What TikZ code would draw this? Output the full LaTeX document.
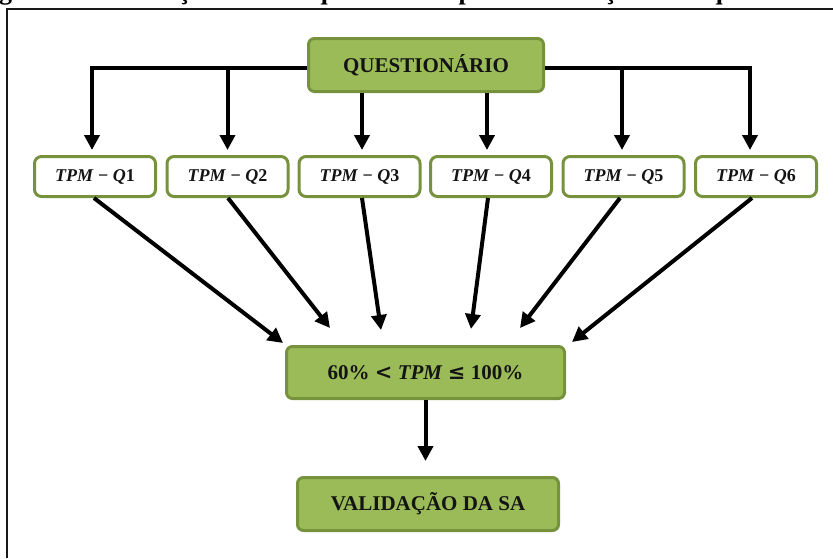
\documentclass[tikz,border=0pt]{standalone}
\usepackage[no-math]{fontspec}
\setmainfont{Liberation Serif}
\newfontfamily\relfont{DejaVu Serif}
\usetikzlibrary{arrows.meta}

\definecolor{olivefill}{HTML}{9BBB59}
\definecolor{olivedraw}{HTML}{76923C}
\definecolor{inktext}{HTML}{141414}

% bold italic variable names, as in the labels
\newcommand{\vname}[1]{\textbf{\textit{#1}}}

\tikzset{
  greenbox/.style={draw=olivedraw, fill=olivefill, line width=3pt,
    rounded corners=6pt, inner sep=0pt, text=inktext},
  qbox/.style={draw=olivedraw, fill=white, line width=3pt,
    rounded corners=7pt, inner sep=0pt, minimum width=121pt,
    minimum height=40pt, text=inktext,
    font=\bfseries\fontsize{18}{21}\selectfont},
  arr/.style={line width=4pt, draw=black,
    -{Triangle[length=15pt,width=15pt]}},
}

\begin{document}
\begin{tikzpicture}[x=1pt,y=-1pt]
\useasboundingbox (0,0) rectangle (833,558);

% caption line above the frame, cut off by the page edge
\begin{scope}
  \clip (0,0) rectangle (833,9);
  \node[anchor=base west, inner sep=0pt,
        font=\bfseries\fontsize{26}{30}\selectfont]
    at (-40,-0.5) {Diagrama da avaliação final do questionário para a validação da Sequência Didática};
\end{scope}

% frame
\draw[line width=2pt, black!90] (7,558) -- (7,9) -- (833,9);

% boxes
\node[greenbox, minimum width=235pt, minimum height=53pt,
      font=\bfseries\fontsize{21}{25}\selectfont] (top) at (426,65) {QUESTIONÁRIO};

\node[qbox] (q1) at (95,176.5)    {\vname{TPM} − \vname{Q}1};
\node[qbox] (q2) at (227.5,176.5) {\vname{TPM} − \vname{Q}2};
\node[qbox] (q3) at (359.5,176.5) {\vname{TPM} − \vname{Q}3};
\node[qbox] (q4) at (491,176.5)   {\vname{TPM} − \vname{Q}4};
\node[qbox] (q5) at (623.5,176.5) {\vname{TPM} − \vname{Q}5};
\node[qbox] (q6) at (756,176.5)   {\vname{TPM} − \vname{Q}6};

\node[greenbox, minimum width=278pt, minimum height=52pt,
      font=\bfseries\fontsize{21}{25}\selectfont] (rng) at (425.5,372.5)
      {60\% {\relfont\bfseries <} \vname{TPM} {\relfont\bfseries ≤} 100\%};

\node[greenbox, minimum width=261pt, minimum height=53pt,
      font=\bfseries\fontsize{21}{25}\selectfont] (val) at (428,504) {VALIDAÇÃO DA SA};

% distribution from the questionnaire
\coordinate (hl) at (0,68);
\draw[arr, shorten >=5pt] ([yshift=-3pt]top.west) -| ([xshift=-3pt]q1.north);
\draw[arr, shorten >=5pt] ([yshift=-3pt]top.east) -| ([xshift=-6pt]q6.north);
\draw[arr, shorten >=5pt] (q2.north |- hl) -- (q2.north);
\draw[arr, shorten >=5pt] ([xshift=-1.5pt]q5.north |- hl) -- ([xshift=-1.5pt]q5.north);
\draw[arr, shorten >=5pt] ([xshift=2.5pt]q3.north |- top.south) -- ([xshift=2.5pt]q3.north);
\draw[arr, shorten >=5pt] ([xshift=-4pt]q4.north |- top.south) -- ([xshift=-4pt]q4.north);

% convergence towards the score range
\draw[arr] ([xshift=-1pt]q1.south) -- ([xshift=-2pt,yshift=2pt]rng.north west);
\draw[arr] ([xshift=0.5pt]q2.south) -- ([xshift=-95.5pt,yshift=17pt]rng.north);
\draw[arr] ([xshift=2.5pt]q3.south) -- ([xshift=-44.5pt,yshift=15pt]rng.north);
\draw[arr] ([xshift=-3pt]q4.south) -- ([xshift=45.5pt,yshift=16pt]rng.north);
\draw[arr] ([xshift=-3.5pt]q5.south) -- ([xshift=94.5pt,yshift=17pt]rng.north);
\draw[arr] ([xshift=-4pt]q6.south) -- ([xshift=6pt,yshift=3pt]rng.north east);

% final validation
\draw[arr, shorten >=15pt] (rng.south) -- (rng.south |- val.north);
\end{tikzpicture}
\end{document}
